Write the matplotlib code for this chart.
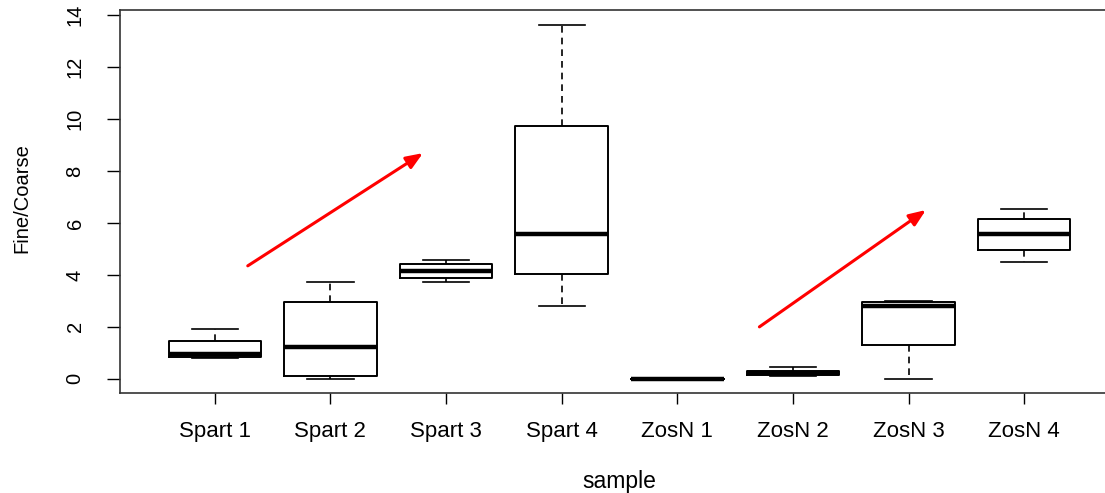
import matplotlib
import matplotlib.pyplot as plt

matplotlib.use('Agg')

plt.rcParams['font.family'] = ['Liberation Sans', 'DejaVu Sans']

# Five-number summaries per sample (Fine/Coarse ratio)
samples = ['Spart 1', 'Spart 2', 'Spart 3', 'Spart 4',
           'ZosN 1', 'ZosN 2', 'ZosN 3', 'ZosN 4']
whisker_low = [0.82, 0.00, 3.72, 2.82, 0.00, 0.12, 0.00, 4.49]
q1 = [0.85, 0.12, 3.87, 4.05, 0.00, 0.13, 1.32, 4.96]
median = [0.95, 1.23, 4.15, 5.59, 0.00, 0.22, 2.82, 5.59]
q3 = [1.47, 2.95, 4.43, 9.74, 0.00, 0.32, 2.95, 6.15]
whisker_high = [1.90, 3.72, 4.59, 13.63, 0.00, 0.46, 2.99, 6.54]

# Trend arrows: (start x, start y, end x, end y)
arrow_spart = (1.285, 4.35, 2.80, 8.69)
arrow_zosn = (5.71, 2.00, 7.15, 6.50)

stats = []
for i, name in enumerate(samples):
    stats.append({
        'label': name,
        'whislo': whisker_low[i],
        'q1': q1[i],
        'med': median[i],
        'q3': q3[i],
        'whishi': whisker_high[i],
        'fliers': [],
    })

fig = plt.figure(figsize=(11.05, 4.93), dpi=100)
ax = fig.add_axes([120 / 1105, 100 / 493, 999 / 1105, 383 / 493])

ax.bxp(stats, positions=range(1, len(samples) + 1), widths=0.8,
       showfliers=False,
       boxprops=dict(color='black', linewidth=1.4),
       medianprops=dict(color='black', linewidth=3.2, solid_capstyle='butt'),
       whiskerprops=dict(color='black', linewidth=1.2, linestyle=(0, (4, 3))),
       capprops=dict(color='black', linewidth=1.2),
       capwidths=0.4)

for x0, y0, x1, y1 in (arrow_spart, arrow_zosn):
    ax.annotate('', xy=(x1, y1), xytext=(x0, y0),
                arrowprops=dict(arrowstyle='-|>,head_length=1.0,head_width=0.4',
                                color='red', lw=2.2, shrinkA=0, shrinkB=0))

ax.set_xlim(0.18, 8.82)
ax.set_ylim(-0.546, 14.2)
ax.set_yticks(range(0, 15, 2))
ax.set_yticklabels([str(v) for v in range(0, 15, 2)], rotation=90, va='center')
ax.tick_params(axis='y', length=9.5, width=1, pad=16, labelsize=14.5)
ax.tick_params(axis='x', length=8, width=1, pad=12.5, labelsize=16)

for side in ax.spines.values():
    side.set_linewidth(1.2)
    side.set_color('#333333')

ax.set_xlabel('sample', fontsize=16.5, labelpad=20)
ax.set_ylabel('Fine/Coarse', fontsize=14.5)
ax.yaxis.set_label_coords(-0.089, 0.509)

fig.savefig('out.png', dpi=100)
plt.close(fig)
